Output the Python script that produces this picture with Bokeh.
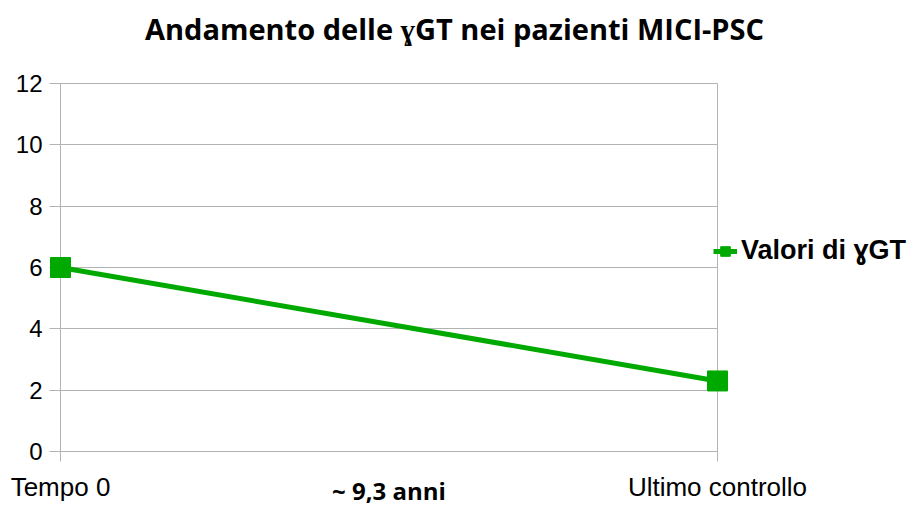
from bokeh.plotting import figure
from bokeh.models import FixedTicker, Legend, LegendItem, Range1d, Label
from bokeh.embed import file_html
from bokeh.resources import INLINE

categories = ["Tempo 0", "Ultimo controllo"]
values = [6, 2.3]
series_name = "Valori di ɣGT"
title_text = "Andamento delle ɣGT nei pazienti MICI-PSC"
interval_text = "~ 9,3 anni"
y_ticks = [0, 2, 4, 6, 8, 10, 12]

xs = list(range(len(categories)))
GREEN = "#00a900"
GRID = "#b3b3b3"

W, H = 911, 506
X0_PX, X1_PX = 60, 717          # pixel columns of the first / last category
Y0_PX, Y12_PX = 451, 83         # pixel rows of y = 0 and y = 12
px_per_x = X1_PX - X0_PX
px_per_y = (Y0_PX - Y12_PX) / y_ticks[-1]

# the frame covers the whole canvas; the axes are pinned at x = 0 and y = 0
x_range = Range1d(xs[0] - X0_PX / px_per_x, xs[0] + (W - X0_PX) / px_per_x)
y_range = Range1d(-(H - Y0_PX) / px_per_y, Y0_PX / px_per_y)

p = figure(width=W, height=H, output_backend="svg", toolbar_location=None,
           x_range=x_range, y_range=y_range,
           min_border=0, min_border_left=0, min_border_right=0,
           min_border_top=0, min_border_bottom=0)
p.outline_line_color = None
p.background_fill_color = "white"
p.border_fill_color = "white"
p.xgrid.visible = False
p.ygrid.visible = False

ln = p.line(xs, values, line_color=GREEN, line_width=5, level="overlay")
mk = p.scatter(xs, values, marker="square", size=20, fill_color=GREEN,
               line_color=GREEN, level="overlay")

# y axis: ticks drawn inward across the plot act as horizontal grid lines
ya = p.yaxis[0]
ya.fixed_location = xs[0]
ya.ticker = FixedTicker(ticks=y_ticks)
ya.axis_line_color = None
ya.major_tick_line_color = GRID
ya.major_tick_out = 11
ya.major_tick_in = px_per_x
ya.minor_tick_line_color = None
ya.major_label_standoff = 7
ya.major_label_text_font = "Liberation Sans"
ya.major_label_text_font_size = "24px"
ya.major_label_text_color = "black"

# x axis: ticks drawn inward up to y = 12 act as vertical grid lines
xa = p.xaxis[0]
xa.fixed_location = 0
xa.ticker = FixedTicker(ticks=xs)
xa.bounds = (xs[0], xs[-1])
xa.axis_line_color = GRID
xa.major_tick_line_color = GRID
xa.major_tick_out = 10
xa.major_tick_in = Y0_PX - Y12_PX
xa.minor_tick_line_color = None
xa.major_label_overrides = {i: c for i, c in zip(xs, categories)}
xa.major_label_standoff = 10
xa.major_label_text_font = "Liberation Sans"
xa.major_label_text_font_size = "26px"
xa.major_label_text_color = "black"
xa.axis_label = interval_text
xa.axis_label_text_font = "Open Sans"
xa.axis_label_text_font_style = "bold"
xa.axis_label_text_font_size = "24px"
xa.axis_label_text_color = "black"
xa.axis_label_standoff = -31

legend = Legend(items=[LegendItem(label=series_name, renderers=[ln, mk])],
                location=(713, H - 251 - 15), padding=0, margin=0, spacing=0,
                glyph_width=24, glyph_height=30, label_height=30,
                label_standoff=4, background_fill_alpha=0, border_line_color=None,
                label_text_font="Liberation Sans", label_text_font_style="bold",
                label_text_font_size="27px", label_text_color="black")
p.add_layout(legend, "center")

p.add_layout(Label(x=xs[0] + (454 - X0_PX) / px_per_x, y=(Y0_PX - 28) / px_per_y,
                   text=title_text, text_align="center", text_baseline="alphabetic",
                   text_font="Open Sans", text_font_style="bold",
                   text_font_size="29px", text_color="black"))

open("out.html", "w").write(file_html(p, INLINE))
